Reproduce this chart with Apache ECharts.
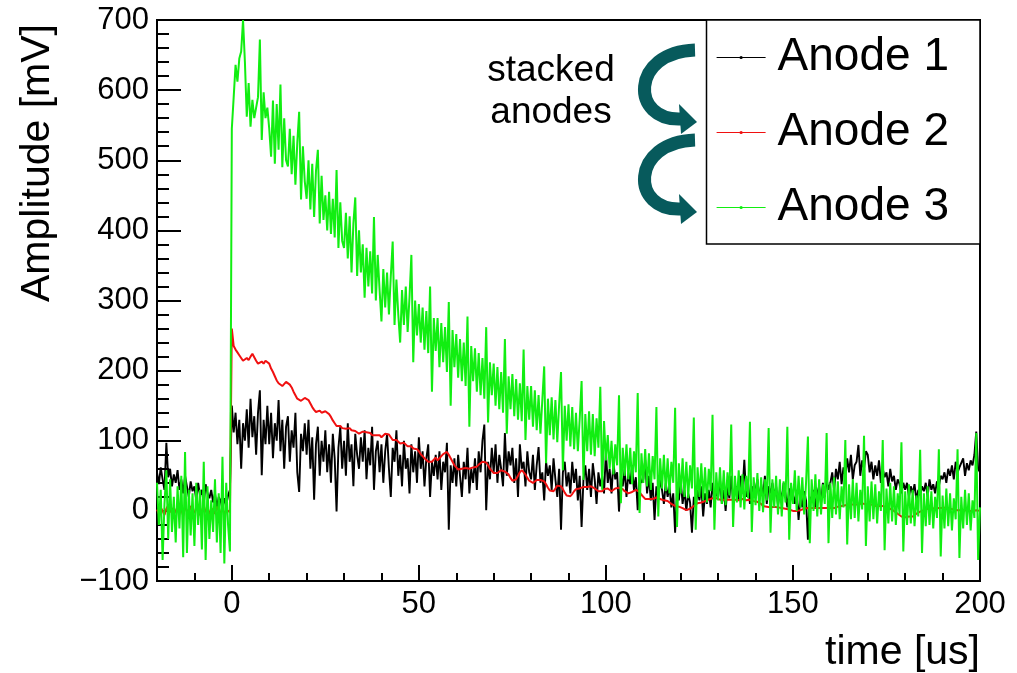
<!DOCTYPE html>
<html>
<head>
<meta charset="utf-8">
<title>Stacked anode signals</title>
<script src="https://cdn.jsdelivr.net/npm/echarts@6/dist/echarts.min.js"></script>
<style>
  html, body { margin: 0; padding: 0; background: #ffffff; }
  #chart { width: 1017px; height: 673px; }
</style>
</head>
<body>
<div id="chart"></div>
<script>
// Digitizer sampling grid of the three waveforms
const SAMPLE_START_US = -20;
const SAMPLE_STEP_US = 0.5;

const seriesNames = ['Anode 1', 'Anode 2', 'Anode 3'];
const xMajorTicks = [0, 50, 100, 150, 200];

// Amplitudes in mV, one row per 5 us (10 samples)
const anode1 = [
  55, 38, 62, 45, 30, 97, 48, 60, 35, 52,
  40, 58, 30, 45, 25, 50, 35, 20, 42, 28,
  35, 15, 40, 22, 30, 10, 38, 25, 18, 30,
  12, 25, 5, 20, 15, 2, 18, 8, 22, 30,
  150, 112, 140, 95, 130, 60, 125, 100, 145, 90,
  160, 105, 135, 80, 140, 172, 51, 130, 95, 150,
  95, 140, 75, 125, 100, 158, 85, 130, 60, 120,
  135, 70, 115, 90, 140, 55, 27, 110, 85, 125,
  80, 130, 60, 105, 16, 95, 120, 50, 100, 70,
  115, 55, 95, 40, 110, 75, -1, 90, 120, 60,
  100, 50, 125, 70, 95, 35, 110, 80, 60, 105,
  70, 115, 45, 90, 65, 120, 30, 85, 100, 55,
  95, 40, 85, 110, 60, 20, 90, 70, 115, 50,
  80, 35, 100, 60, 75, 25, 95, 55, 85, 40,
  105, 60, 85, 35, 75, 95, 20, 70, 50, 80,
  45, 85, 30, 70, 55, 97, -27, 65, 40, 75,
  35, 80, 50, 20, 70, 45, 90, 25, 60, 40,
  75, 30, 85, 55, 100, 123, 1, 70, 45, 90,
  55, 95, 40, 80, 60, 35, 111, 50, 85, 65,
  90, 40, 75, 20, 95, 60, 70, 35, 85, 55,
  45, 80, 30, 65, 91, 40, 55, 15, 70, 50,
  65, 30, 75, 45, 20, 60, -27, 55, 70, 35,
  55, 25, 70, 40, 60, 15, 50, -23, 45, 65,
  30, 60, 20, 68, 45, 10, 55, 35, 50, 25,
  84, 40, 60, 25, 70, 45, 55, -1, 50, 35,
  60, 20, 55, 38, 65, 30, 48, 1, 52, 40,
  45, 73, 25, 50, 15, 40, -13, 35, 20, 45,
  30, 10, 40, 20, 35, 5, 25, -31, 28, 15,
  44, 10, 30, 0, 25, 12, -31, 20, 5, 30,
  15, 35, -8, 25, 10, 30, 5, 40, 15, 25,
  20, 45, 10, 30, 0, 35, 18, 50, 12, 28,
  35, 15, 50, 25, 73, 20, 40, 10, 35, 25,
  30, 45, 15, 38, 20, 50, 10, 35, 25, 40,
  20, 35, 8, 30, 15, 40, 25, 5, 32, 18,
  25, 10, 30, -13, 20, 5, 28, 15, -41, 20,
  15, 30, 5, 25, 35, 10, 40, 20, 45, 30,
  40, 55, 30, 60, 45, 70, 38, 62, 50, 75,
  55, 80, 45, 65, 70, 94, 50, 72, 60, 85,
  80, 55, 70, 45, 65, 50, 72, 40, 60, 48,
  55, 35, 60, 42, 50, 30, 45, 38, 25, 40,
  30, 40, 20, 35, 25, 38, 15, 30, 22, 35,
  28, 40, 20, 45, 30, 38, 25, 42, 35, 50,
  45, 55, 40, 60, 50, 65, 45, 70, 55, 62,
  60, 75, 50, 68, 58, 72, 65, 80, 113, 60,
  55
];

const anode2 = [
  2, -4, 5, 0, -6, 3, 8, -2, 4, -5,
  0, 6, -3, 2, -7, 4, 1, -4, 7, 0,
  -3, 5, 2, -6, 0, 8, -2, 3, -5, 4,
  1, -4, 6, 0, -3, 5, -6, 2, 3, -2,
  260, 235, 230, 226, 222, 218, 214, 213, 218, 215,
  220, 224, 219, 214, 210, 208, 213, 210, 214, 213,
  210, 203, 198, 192, 186, 182, 180, 178, 180, 184,
  183, 180, 176, 170, 165, 160, 158, 157, 159, 161,
  160, 158, 153, 148, 144, 141, 141, 143, 140, 141,
  142, 140, 138, 134, 129, 125, 121, 120, 121, 118,
  119, 117, 116, 118, 115, 113, 114, 112, 110, 111,
  113, 115, 112, 110, 111, 108, 106, 108, 110, 108,
  105, 107, 110, 112, 109, 105, 101, 99, 101, 99,
  96, 94, 97, 95, 92, 90, 92, 89, 87, 88,
  85, 81, 78, 75, 73, 70, 68, 70, 73, 76,
  72, 75, 78, 81, 83, 84, 80, 75, 70, 65,
  62, 59, 58, 60, 58, 61, 63, 60, 58, 62,
  64, 63, 66, 68, 70, 71, 69, 65, 60, 57,
  54, 55, 54, 56, 58, 57, 56, 55, 52, 47,
  43, 41, 45, 50, 55, 58, 56, 52, 47, 43,
  41, 40, 42, 44, 45, 44, 43, 42, 38, 33,
  29, 27, 28, 32, 36, 37, 35, 31, 26, 22,
  20, 21, 24, 28, 31, 33, 32, 33, 34, 35,
  34, 36, 35, 34, 32, 30, 28, 26, 28, 31,
  33, 32, 30, 28, 30, 32, 34, 33, 33, 31,
  28, 26, 25, 26, 27, 29, 30, 30, 27, 23,
  20, 17, 16, 17, 18, 17, 18, 19, 18, 17,
  16, 15, 16, 14, 12, 10, 8, 7, 6, 6,
  6, 4, 2, 1, 2, 3, 5, 7, 9, 11,
  11, 12, 13, 14, 15, 16, 17, 18, 18, 18,
  17, 16, 15, 16, 16, 16, 15, 16, 17, 16,
  16, 15, 16, 17, 16, 15, 16, 16, 15, 14,
  13, 13, 12, 10, 7, 6, 6, 6, 5, 6,
  6, 5, 5, 4, 4, 4, 3, 3, 2, 1,
  0, -1, 0, 1, 1, 2, 3, 3, 4, 4,
  4, 5, 4, 3, 4, 5, 4, 3, 4, 4,
  4, 5, 4, 5, 6, 6, 7, 8, 8, 9,
  9, 10, 9, 10, 9, 9, 10, 9, 10, 9,
  9, 8, 9, 8, 7, 8, 7, 6, 7, 6,
  5, 4, 3, 2, 0, -2, -4, -6, -8, -9,
  -9, -9, -8, -9, -8, -6, -4, -2, -1, 0,
  1, 2, 3, 3, 4, 4, 3, 4, 4, 3,
  4, 4, 5, 4, 3, 3, 2, 2, 1, 1,
  1, 0, 1, 0, 0, 1, 0, 0, 1, 0,
  0
];

const anode3 = [
  40, -20, 30, -70, 10, 58, -40, 45, -30, 20,
  -45, 35, -25, 50, -66, 84, -60, 30, -35, 25,
  -50, 40, -20, 30, -55, 70, -70, 35, -40, 15,
  -30, 45, -45, 25, -60, 77, -75, 40, -20, -58,
  545, 590, 636, 612, 645, 655, 700, 640, 562, 610,
  548, 586, 560, 575, 590, 672, 529, 597, 560, 575,
  545, 505, 585, 495, 580, 515, 608, 490, 560, 500,
  491, 545, 480, 535, 465, 525, 569, 444, 520, 470,
  445, 500, 430, 495, 419, 485, 515, 410, 478, 415,
  450, 400, 455, 395, 445, 390, 486, 375, 440, 385,
  375, 425, 360, 420, 340, 410, 447, 335, 400, 340,
  380, 304, 375, 320, 370, 310, 419, 300, 365, 315,
  270, 345, 290, 340, 280, 335, 384, 265, 330, 280,
  240, 315, 265, 320, 255, 305, 365, 212, 300, 250,
  295, 240, 290, 230, 285, 225, 320, 170, 275, 228,
  275, 205, 268, 212, 262, 198, 298, 150, 258, 205,
  252, 190, 245, 185, 240, 178, 277, 120, 235, 185,
  232, 170, 225, 165, 218, 160, 262, 126, 212, 165,
  210, 150, 205, 145, 198, 140, 245, 110, 192, 145,
  195, 135, 188, 130, 182, 128, 230, 101, 178, 130,
  178, 120, 172, 115, 165, 110, 158, 206, 68, 160,
  108, 162, 102, 158, 98, 152, 198, 58, 150, 100,
  152, 92, 148, 88, 140, 85, 132, 185, 44, 138,
  85, 142, 80, 138, 78, 132, 90, 177, 30, 128,
  72, 108, 60, 100, 52, 95, 65, 165, 11, 90,
  50, 95, 45, 90, 38, 85, 55, 168, -3, 82,
  40, 88, 35, 82, 30, 78, 45, 148, -8, 75,
  32, 80, 28, 75, 25, 70, 40, 147, -23, 68,
  25, 75, 20, 70, 18, 65, 32, 133, -27, 62,
  20, 68, 15, 62, 12, 60, 28, 137, -27, 55,
  15, 62, 10, 58, 8, 55, 22, 123, -23, 50,
  12, 58, 5, 52, 2, 50, 18, 127, -30, 48,
  8, 54, 0, 48, -2, 45, 15, 118, -31, 45,
  5, 50, -5, 45, -8, 42, 12, 120, -41, 40,
  10, 58, 0, 50, 5, 48, -5, 40, 106, -46,
  45, 0, 52, -8, 45, -5, 38, 10, 111, -46,
  40, -10, 48, -5, 42, -12, 35, 5, 101, -48,
  38, -12, 45, -10, 40, -15, 30, 2, 107, -50,
  35, -15, 42, -12, 38, -18, 28, 0, 101, -56,
  32, -18, 40, -15, 35, -20, 25, -5, 98, -58,
  28, -20, 38, -18, 30, -22, 22, -8, 87, -60,
  25, -22, 35, -20, 28, -25, 20, -10, 88, -65,
  22, -25, 32, -22, 25, -28, 18, -12, 88, -67,
  20, -25, 30, -20, 25, -28, 15, -10, 111, -70,
  5
];

const TRACE_COLORS = ['#000000', '#f01010', '#11ee11'];
const TRACE_WIDTHS = [1.9, 2, 2];
const ARROW_COLOR = '#075a5c';
const FONT = '"Liberation Sans", Arial, Helvetica, sans-serif';

// pair every sample with its time stamp
function toPoints(values) {
  return values.map(function (v, i) {
    return [SAMPLE_START_US + i * SAMPLE_STEP_US, v];
  });
}

const traces = [anode1, anode2, anode3];

const tickStyle = { color: '#000', width: 2 };

const chart = echarts.init(document.getElementById('chart'), null, { renderer: 'canvas' });

chart.setOption({
  animation: false,
  backgroundColor: '#ffffff',
  textStyle: { fontFamily: FONT },
  grid: {
    left: 157, top: 20, width: 823, height: 561,
    show: true, borderColor: '#000', borderWidth: 2,
    backgroundColor: 'transparent',
    containLabel: false,
    outerBoundsMode: 'none'
  },
  xAxis: [
    {
      type: 'value', min: -20, max: 200, interval: 10,
      axisLine: { show: false, onZero: false },
      axisTick: { show: true, inside: true, length: 8, lineStyle: tickStyle },
      axisLabel: { show: false },
      splitLine: { show: false }
    },
    {
      type: 'value', min: -20, max: 200, position: 'bottom',
      axisLine: { show: false, onZero: false },
      axisTick: { show: true, inside: true, length: 16, customValues: xMajorTicks, lineStyle: tickStyle },
      axisLabel: {
        show: true, customValues: xMajorTicks, margin: 8,
        fontSize: 31, color: '#000', fontFamily: FONT
      },
      splitLine: { show: false }
    }
  ],
  yAxis: {
    type: 'value', min: -100, max: 700, interval: 100,
    axisLine: { show: false, onZero: false },
    axisTick: { show: true, inside: true, length: 24, lineStyle: tickStyle },
    minorTick: { show: true, splitNumber: 5, length: 12, lineStyle: tickStyle },
    axisLabel: {
      margin: 8, fontSize: 31, color: '#000', fontFamily: FONT,
      formatter: function (v) { return v < 0 ? '\u2212' + Math.abs(v) : String(v); }
    },
    splitLine: { show: false },
    minorSplitLine: { show: false }
  },
  legend: {
    data: seriesNames,
    orient: 'vertical',
    left: 716, top: 34.5,
    padding: 0,
    itemWidth: 49, itemHeight: 4, itemGap: 29,
    selectedMode: false,
    textStyle: { fontSize: 46, color: '#000', fontFamily: FONT, padding: [0, 0, 0, 7] },
    lineStyle: { width: 1.2 },
    z: 6
  },
  series: traces.map(function (values, k) {
    return {
      name: seriesNames[k],
      type: 'line',
      xAxisIndex: 0,
      yAxisIndex: 0,
      data: toPoints(values),
      symbol: 'none',
      showSymbol: false,
      lineStyle: { width: TRACE_WIDTHS[k], color: TRACE_COLORS[k] },
      itemStyle: { color: TRACE_COLORS[k] },
      emphasis: { disabled: true },
      z: 2 + k * 0.1
    };
  }),
  graphic: {
    elements: [
      // legend frame
      {
        type: 'rect', z: 5,
        shape: { x: 706.5, y: 20, width: 273.5, height: 224 },
        style: { fill: '#ffffff', stroke: '#000', lineWidth: 1.5 }
      },
      // curved arrows: Anode 1 -> Anode 2 -> Anode 3
      {
        type: 'bezierCurve', z: 7,
        shape: { x1: 695, y1: 50, cpx1: 630, cpy1: 52, cpx2: 630, cpy2: 122, x2: 682, y2: 119 },
        style: { stroke: ARROW_COLOR, lineWidth: 13, fill: null }
      },
      {
        type: 'polygon', z: 7,
        shape: { points: [[679, 104], [697, 122], [681, 134]] },
        style: { fill: ARROW_COLOR }
      },
      {
        type: 'bezierCurve', z: 7,
        shape: { x1: 695, y1: 140, cpx1: 630, cpy1: 142, cpx2: 630, cpy2: 212, x2: 682, y2: 209 },
        style: { stroke: ARROW_COLOR, lineWidth: 13, fill: null }
      },
      {
        type: 'polygon', z: 7,
        shape: { points: [[679, 194], [697, 212], [681, 224]] },
        style: { fill: ARROW_COLOR }
      },
      {
        type: 'text', z: 7, x: 551, y: 71,
        style: { text: 'stacked', fontSize: 37, fontFamily: FONT, fill: '#000', align: 'center', verticalAlign: 'middle' }
      },
      {
        type: 'text', z: 7, x: 551, y: 113,
        style: { text: 'anodes', fontSize: 37, fontFamily: FONT, fill: '#000', align: 'center', verticalAlign: 'middle' }
      },
      // axis titles
      {
        type: 'text', z: 7, x: 38, y: 24, rotation: Math.PI / 2,
        style: { text: 'Amplitude [mV]', fontSize: 41, fontFamily: FONT, fill: '#000', align: 'right', verticalAlign: 'middle' }
      },
      {
        type: 'text', z: 7, x: 980, y: 653,
        style: { text: 'time [us]', fontSize: 41, fontFamily: FONT, fill: '#000', align: 'right', verticalAlign: 'middle' }
      }
    ]
  }
});
</script>
</body>
</html>
